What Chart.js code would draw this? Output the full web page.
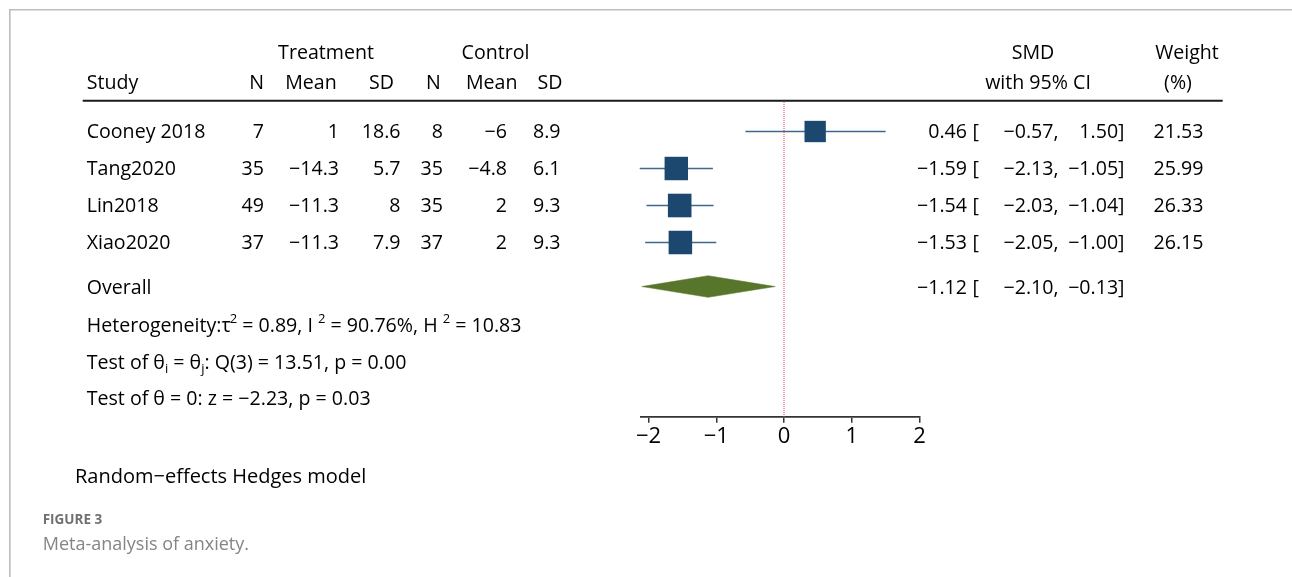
<!DOCTYPE html>
<html>
<head>
<meta charset="utf-8">
<script src="https://cdn.jsdelivr.net/npm/chart.js@4.4.1/dist/chart.umd.min.js"></script>
<style>
  html, body { margin: 0; padding: 0; background: #fff; }
  canvas { display: block; }
</style>
</head>
<body>
<canvas id="forest" width="1292" height="577"></canvas>
<script>
// ---- study data ----
const studies   = ['Cooney 2018', 'Tang2020', 'Lin2018', 'Xiao2020'];
const treatN    = [7, 35, 49, 37];
const treatMean = [1, -14.3, -11.3, -11.3];
const treatSD   = [18.6, 5.7, 8, 7.9];
const ctrlN     = [8, 35, 35, 37];
const ctrlMean  = [-6, -4.8, 2, 2];
const ctrlSD    = [8.9, 6.1, 9.3, 9.3];
const smd       = [0.46, -1.59, -1.54, -1.53];
const ciLow     = [-0.57, -2.13, -2.03, -2.05];
const ciHigh    = [1.50, -1.05, -1.04, -1.00];
const weights   = [21.53, 25.99, 26.33, 26.15];

// ---- pooled estimate and statistics ----
const overallSMD  = -1.12;
const overallLow  = -2.10;
const overallHigh = -0.13;
const tau2 = 0.89, iSq = 90.76, hSq = 10.83;
const qStat = 13.51, qDf = 3, qP = 0.00;
const zStat = -2.23, zP = 0.03;

const xTicks = [-2, -1, 0, 1, 2];

// ---- layout (row units on the vertical scale) ----
const yMin = 0.1486, yMax = 8.708;
const rowY = studies.map((_, i) => i + 1);
const overallY = 5.19;
const statY = [6.23, 7.222, 8.211];
const diamondHalf = 0.292;

const FONT = "'Open Sans', 'Noto Sans', sans-serif";
const minus = s => String(s).replace('-', '\u2212');
const f2 = v => minus(v.toFixed(2));

const frameAndText = {
  id: 'frameAndText',
  beforeDraw(chart) {
    const ctx = chart.ctx;
    ctx.save();
    ctx.fillStyle = '#fff';
    ctx.fillRect(0, 0, chart.width, chart.height);
    // outer panel frame
    ctx.strokeStyle = '#bdbdbd';
    ctx.lineWidth = 1.6;
    ctx.beginPath();
    ctx.moveTo(9.8, chart.height);
    ctx.lineTo(9.8, 9.8);
    ctx.lineTo(chart.width, 9.8);
    ctx.stroke();
    ctx.restore();
  },
  afterDraw(chart) {
    const ctx = chart.ctx;
    const ys = chart.scales.y;
    const size = 19.6;
    const cap = size * 0.714;

    function txt(s, x, yc, align, opts = {}) {
      const sz = opts.size || size;
      ctx.font = (opts.weight || 'normal') + ' ' + sz + 'px ' + (opts.family || FONT);
      ctx.fillStyle = opts.color || '#000';
      ctx.textAlign = align;
      ctx.textBaseline = 'alphabetic';
      ctx.fillText(s, x, yc + (sz * 0.714) / 2);
    }

    // sequence of normal / raised / lowered pieces, left to right
    function rich(parts, x, yc) {
      ctx.textAlign = 'left';
      ctx.textBaseline = 'alphabetic';
      ctx.fillStyle = '#000';
      let cx = x;
      const base = yc + cap / 2;
      parts.forEach(p => {
        let sz = size, dy = 0;
        if (p.sup) { sz = 13; dy = -9; }
        if (p.sub) { sz = 13; dy = 4; }
        ctx.font = sz + 'px ' + FONT;
        ctx.fillText(p.t, cx + (p.dx || 0), base + dy);
        cx += ctx.measureText(p.t).width + (p.dx || 0);
      });
    }

    ctx.save();

    // column headings
    txt('Treatment', 326, 52.5, 'center');
    txt('Control', 495.5, 52.5, 'center');
    txt('SMD', 1033, 52.5, 'center');
    txt('Weight', 1187, 52.5, 'center');
    txt('Study', 86.7, 81.7, 'left');
    txt('N', 256.7, 81.7, 'center');
    txt('Mean', 311, 81.7, 'center');
    txt('SD', 381.5, 81.7, 'center');
    txt('N', 433.5, 81.7, 'center');
    txt('Mean', 491.7, 81.7, 'center');
    txt('SD', 550, 81.7, 'center');
    txt('with 95% CI', 1038, 81.7, 'center');
    txt('(%)', 1178, 81.7, 'center');

    // heading rule
    ctx.strokeStyle = '#1a1a1a';
    ctx.lineWidth = 2;
    ctx.beginPath();
    ctx.moveTo(82.7, 100.7);
    ctx.lineTo(1222.7, 100.7);
    ctx.stroke();

    // study rows
    studies.forEach((s, i) => {
      const y = ys.getPixelForValue(rowY[i]);
      txt(s, 86.7, y, 'left');
      txt(minus(treatN[i]), 264, y, 'right');
      txt(minus(treatMean[i]), 339, y, 'right');
      txt(minus(treatSD[i]), 400.5, y, 'right');
      txt(minus(ctrlN[i]), 443, y, 'right');
      txt(minus(ctrlMean[i]), 507, y, 'right');
      txt(minus(ctrlSD[i]), 560.5, y, 'right');
      txt(f2(smd[i]), 967, y, 'right');
      txt('[', 972.5, y, 'left');
      txt(f2(ciLow[i]) + ',', 1058.5, y, 'right');
      txt(f2(ciHigh[i]) + ']', 1124.5, y, 'right');
      txt(weights[i].toFixed(2), 1203.5, y, 'right');
    });

    // pooled row
    const oy = ys.getPixelForValue(overallY);
    txt('Overall', 86.7, oy, 'left');
    txt(f2(overallSMD), 967, oy, 'right');
    txt('[', 972.5, oy, 'left');
    txt(f2(overallLow) + ',', 1058.5, oy, 'right');
    txt(f2(overallHigh) + ']', 1124.5, oy, 'right');

    // heterogeneity and tests
    rich([
      { t: 'Heterogeneity:\u03C4' },
      { t: '2', sup: true, dx: -1 },
      { t: ' = ' + tau2.toFixed(2) + ', I ' },
      { t: '2', sup: true },
      { t: ' = ' + iSq.toFixed(2) + '%, H ' },
      { t: '2', sup: true },
      { t: ' = ' + hSq.toFixed(2) }
    ], 86.7, ys.getPixelForValue(statY[0]));
    rich([
      { t: 'Test of \u03B8' },
      { t: 'i', sub: true },
      { t: ' = \u03B8' },
      { t: 'j', sub: true },
      { t: ': Q(' + qDf + ') = ' + qStat.toFixed(2) + ', p = ' + qP.toFixed(2) }
    ], 86.7, ys.getPixelForValue(statY[1]));
    rich([
      { t: 'Test of \u03B8 = 0: z = ' + f2(zStat) + ', p = ' + zP.toFixed(2) }
    ], 86.7, ys.getPixelForValue(statY[2]));

    // model note and caption
    txt('Random\u2212effects Hedges model', 75, 475.7, 'left', { size: 20 });
    txt('FIGURE 3', 42.7, 519, 'left', { size: 13.5, weight: 'bold', color: '#707070' });
    txt('Meta-analysis of anxiety.', 42.7, 543.5, 'left', { size: 18, color: '#858585' });

    ctx.restore();
  }
};

const datasets = [];

// weighted study squares (drawn on top)
datasets.push({
  data: smd.map((v, i) => ({ x: v, y: rowY[i] })),
  pointStyle: 'rect',
  pointRadius: weights.map(w => 4.6 * Math.sqrt(w) / Math.SQRT2),
  backgroundColor: '#1c4870',
  borderColor: '#1c4870',
  borderWidth: 0,
  showLine: false
});

// pooled diamond
datasets.push({
  data: [
    { x: overallLow, y: overallY },
    { x: overallSMD, y: overallY - diamondHalf },
    { x: overallHigh, y: overallY },
    { x: overallSMD, y: overallY + diamondHalf },
    { x: overallLow, y: overallY }
  ],
  showLine: true,
  fill: 'shape',
  backgroundColor: '#58762b',
  borderColor: '#58762b',
  borderWidth: 0.5,
  pointRadius: 0,
  tension: 0
});

// confidence intervals
studies.forEach((s, i) => {
  datasets.push({
    data: [{ x: ciLow[i], y: rowY[i] }, { x: ciHigh[i], y: rowY[i] }],
    showLine: true,
    borderColor: '#3e6791',
    borderWidth: 1.7,
    pointRadius: 0
  });
});

// line of no effect
datasets.push({
  data: [{ x: 0, y: yMin }, { x: 0, y: yMax }],
  showLine: true,
  borderColor: '#e2405a',
  borderWidth: 1,
  borderDash: [1, 1],
  pointRadius: 0
});

new Chart(document.getElementById('forest'), {
  type: 'scatter',
  data: { datasets },
  plugins: [frameAndText],
  options: {
    responsive: false,
    animation: false,
    devicePixelRatio: 1,
    layout: { padding: { left: 640.4, right: 372.5, top: 100, bottom: 120.3 } },
    plugins: { legend: { display: false }, tooltip: { enabled: false } },
    elements: { line: { tension: 0 } },
    datasets: { scatter: { clip: false } },
    scales: {
      x: {
        type: 'linear',
        min: -2.12,
        max: 2,
        afterBuildTicks: s => { s.ticks = xTicks.map(v => ({ value: v })); },
        afterFit: s => { s.height = 40; },
        grid: { drawOnChartArea: false, drawTicks: true, tickLength: 6, color: '#333', lineWidth: 1.5 },
        border: { display: true, color: '#333', width: 1.8 },
        ticks: {
          font: { family: FONT, size: 22 },
          color: '#000',
          padding: 1,
          autoSkip: false,
          maxRotation: 0,
          callback: v => minus(v)
        }
      },
      y: { type: 'linear', display: false, min: yMin, max: yMax, reverse: true }
    }
  }
});
</script>
</body>
</html>
